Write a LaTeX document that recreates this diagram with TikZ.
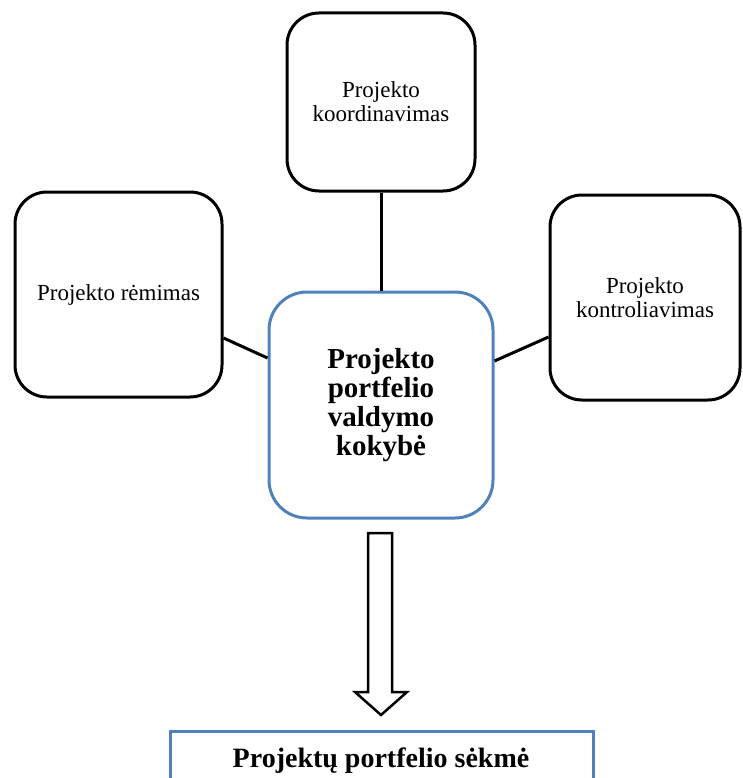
\documentclass[tikz,border=0pt]{standalone}
\usepackage{fontspec}
\setmainfont{Liberation Serif}
\usetikzlibrary{calc}
\definecolor{officeblue}{RGB}{79,129,189}
\begin{document}
\begin{tikzpicture}[x=1pt,y=-1pt,
  sidebox/.style={draw=black,line width=3pt,rounded corners=32pt,fill=white,
    align=center,inner sep=0pt,font=\fontsize{23}{24}\selectfont},
  corebox/.style={draw=officeblue,line width=3pt,rounded corners=38pt,fill=white,
    align=center,inner sep=0pt,font=\fontsize{29}{29}\selectfont\bfseries},
  link/.style={draw=black,line width=3pt}]
\useasboundingbox (0,0) rectangle (742,778);

% surrounding activities
\node[sidebox,minimum width=188pt,minimum height=178pt] (coord) at (381,102)
  {Projekto\\koordinavimas};
\node[sidebox,minimum width=207pt,minimum height=205pt] (supp) at (118.5,294.5)
  {Projekto rėmimas};
\node[sidebox,minimum width=190pt,minimum height=205pt] (ctrl) at (645,297.5)
  {Projekto\\kontroliavimas};

% central quality node
\node[corebox,minimum width=224pt,minimum height=226pt] (core) at (381,405)
  {Projekto\\portfelio\\valdymo\\kokybė};

% links to the centre
\draw[link] (coord.south) -- (core.north);
\draw[link] ([yshift=-43.5pt]supp.east) -- ([yshift=47pt]core.west);
\draw[link] ([yshift=44pt]core.east) -- ([yshift=-39.5pt]ctrl.west);

% hollow block arrow
\draw[line width=2.5pt,fill=white,line join=miter]
  (368,533) -- (392,533) -- (392,692) -- (407,692) -- (381,715)
  -- (355,692) -- (368,692) -- cycle;

% outcome box
\node[draw=officeblue,line width=3pt,minimum width=423pt,minimum height=90pt,
  anchor=north,inner sep=0pt] (result) at (381.5,730) {};
\node[font=\fontsize{28}{29}\selectfont\bfseries,anchor=base,inner sep=0pt]
  (resulttext) at (381,767) {Projektų portfelio sėkmė};
\end{tikzpicture}
\end{document}
